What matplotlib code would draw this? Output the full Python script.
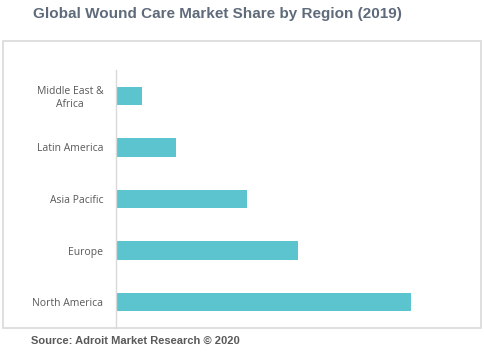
import matplotlib
matplotlib.use("Agg")
import matplotlib.pyplot as plt
from matplotlib.patches import Rectangle

regions = ["North America", "Europe", "Asia Pacific", "Latin America", "Middle East &\nAfrica"]
share = [42.5, 26.2, 18.9, 8.6, 3.8]

fig = plt.figure(figsize=(4.85, 3.53), dpi=100)
fig.patch.set_facecolor("white")

# outer frame around the plot
fig.patches.append(Rectangle((3 / 485, 25 / 353), 478 / 485, 287 / 353,
                             transform=fig.transFigure, fill=False,
                             edgecolor="#d9d9d9", linewidth=1.2))

ax = fig.add_axes([116 / 485, 25 / 353, 354 / 485, 258 / 353])
ax.barh(range(len(regions)), share, height=0.36, color="#5bc4cf")
ax.set_xlim(0, 51)
ax.set_ylim(-0.5, 4.5)
ax.set_yticks(range(len(regions)))
ax.set_yticklabels(regions, fontsize=7.5, color="#595959",
                   family="Open Sans", ha="right", multialignment="center")
ax.tick_params(axis="y", length=0, pad=9)
ax.set_xticks([])
for s in ["top", "right", "bottom"]:
    ax.spines[s].set_visible(False)
ax.spines["left"].set_color("#d9d9d9")
ax.spines["left"].set_linewidth(1)

fig.text(33 / 485, 1 - 14 / 353, "Global Wound Care Market Share by Region (2019)",
         fontsize=11, fontweight="bold", color="#5f6b7a",
         family="Liberation Sans", va="center", ha="left")
fig.text(31 / 485, 1 - 341 / 353, "Source: Adroit Market Research \u00a9 2020",
         fontsize=8, fontweight="bold", color="#595959",
         family="Liberation Sans", va="center", ha="left")

fig.savefig("out.png", dpi=100)
